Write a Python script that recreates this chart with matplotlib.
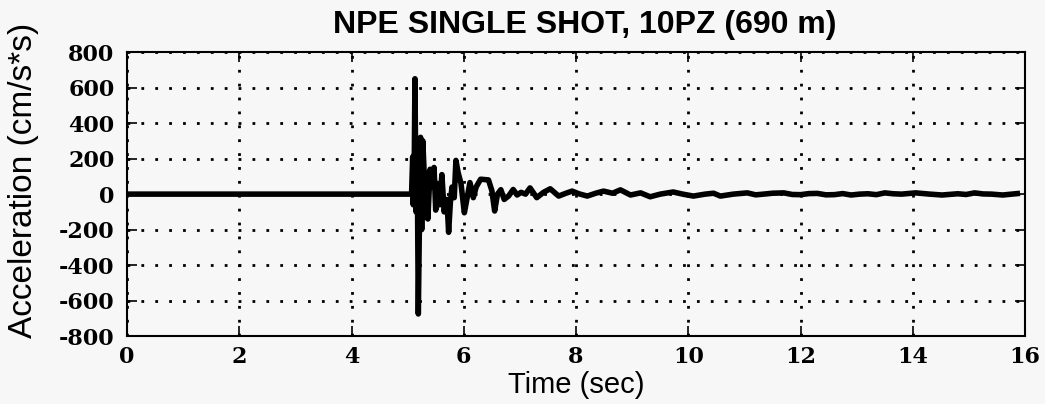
import numpy as np
import matplotlib
matplotlib.use('Agg')
import matplotlib.pyplot as plt

# trace (time in sec, acceleration in cm/s*s)
time = [0.0, 5.07, 5.09, 5.10, 5.12, 5.13, 5.15, 5.17, 5.19, 5.21, 5.23,
        5.25, 5.27, 5.29, 5.31, 5.34, 5.36, 5.40, 5.44, 5.47, 5.50, 5.53,
        5.57, 5.61, 5.65, 5.70, 5.73, 5.76, 5.79, 5.83, 5.86, 5.90, 5.95,
        6.01, 6.06, 6.11, 6.17, 6.22, 6.30, 6.44, 6.50, 6.55, 6.60, 6.66,
        6.72, 6.80, 6.88, 6.95, 7.02, 7.10, 7.18, 7.30, 7.42, 7.54, 7.69,
        7.82, 7.93, 8.05, 8.20, 8.35, 8.49, 8.65, 8.79, 8.97, 9.15, 9.32,
        9.50, 9.73, 9.90, 10.09, 10.30, 10.45, 10.57, 10.80, 11.05, 11.20,
        11.34, 11.50, 11.70, 11.85, 12.00, 12.15, 12.30, 12.45, 12.60,
        12.75, 12.90, 13.05, 13.20, 13.35, 13.50, 13.65, 13.80, 14.05,
        14.30, 14.52, 14.80, 14.95, 15.10, 15.25, 15.40, 15.60, 15.86]
accel = [0, 0, 210, -60, 250, 650, -100, 220, -675, -150, 320,
         -200, 300, 150, -130, 120, -140, 140, 40, 150, -90, 60,
         -60, 110, -100, -30, -215, -50, 40, -20, 190, 120, 60,
         -105, -20, 65, -20, 40, 84, 80, 20, -95, 0, 25,
         -30, -10, 26, -5, 10, 0, 35, -20, 10, 30, -11,
         5, 17, 2, -11, 5, 17, 5, 24, -5, 7, -15,
         0, 12, 0, -11, 0, 5, -11, 0, 7, -4,
         0, 5, 7, -2, -3, 3, 4, -4, -3,
         3, -5, 0, 2, -3, 7, 2, 0, 7,
         0, -5, 2, -2, 7, 1, 0, -5, 3]

xticks = [0, 2, 4, 6, 8, 10, 12, 14, 16]
yticks = [-800, -600, -400, -200, 0, 200, 400, 600, 800]

fig = plt.figure(figsize=(10.45, 4.04), dpi=100)
fig.patch.set_facecolor('#f7f7f7')
ax = fig.add_axes([0.1215, 0.168, 0.8595, 0.703])
ax.set_facecolor('#f7f7f7')

ax.plot(time, accel, color='black', lw=4, solid_joinstyle='round')

ax.set_xlim(0, 16)
ax.set_ylim(-800, 800)
ax.set_xticks(xticks)
ax.set_yticks(yticks)

tickfont = {'family': 'DejaVu Serif', 'size': 16, 'weight': 'bold'}
ax.set_xticklabels([str(t) for t in xticks], fontdict=tickfont)
ax.set_yticklabels([str(t) for t in yticks], fontdict=tickfont)
ax.tick_params(direction='in', length=7, width=1.2, top=True, right=True,
               pad=9, colors='black')
ax.tick_params(axis='x', pad=7)

# dotted grid
ax.grid(True, color='black', linestyle=(0, (1, 4)), linewidth=2)
for s in ax.spines.values():
    s.set_linewidth(1.5)
    s.set_color('black')

ax.set_title('NPE SINGLE SHOT, 10PZ (690 m)', fontsize=23, fontweight='bold',
             family=['Liberation Sans', 'DejaVu Sans'], pad=14, x=0.51)
ax.set_xlabel('Time (sec)', fontsize=21,
              family=['Liberation Sans Narrow', 'Liberation Sans'], labelpad=2)
ax.set_ylabel('Acceleration (cm/s*s)', fontsize=24,
              family=['Liberation Sans Narrow', 'Liberation Sans'])
ax.yaxis.set_label_coords(-0.098, 0.55)

fig.savefig('out.png', dpi=100, facecolor=fig.get_facecolor())
